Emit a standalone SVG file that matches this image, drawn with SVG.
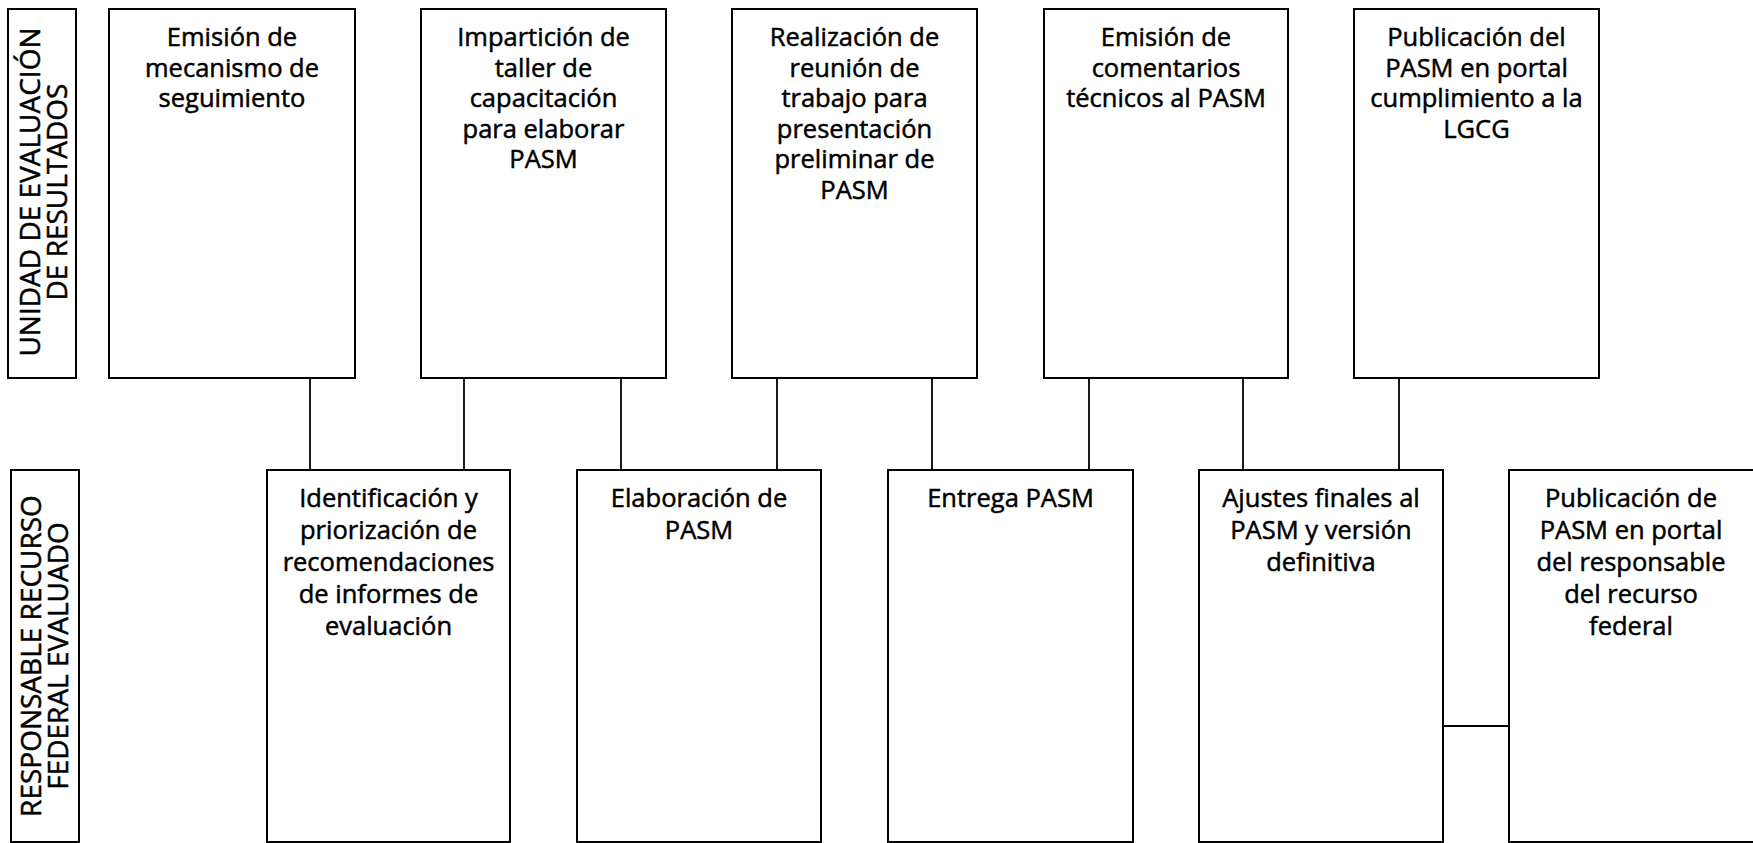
<svg xmlns="http://www.w3.org/2000/svg" width="1753" height="843" viewBox="0 0 1753 843">
<style>
.box{fill:#fff;stroke:#000;stroke-width:2}
.lbl{font-family:"Open Sans","Liberation Sans",sans-serif;font-size:25.5px;fill:#000;stroke:#000;stroke-width:0.5;text-anchor:middle}
.lane{font-family:"Open Sans","Liberation Sans",sans-serif;font-size:28px;fill:#000;stroke:#000;stroke-width:0.5;text-anchor:middle}
.con{stroke:#000;stroke-width:1.8;fill:none}
</style>
<rect width="1753" height="843" fill="#fff"/>
<g id="connectors">
<line class="con" x1="310" y1="378" x2="310" y2="470"/>
<line class="con" x1="464" y1="378" x2="464" y2="470"/>
<line class="con" x1="621" y1="378" x2="621" y2="470"/>
<line class="con" x1="777" y1="378" x2="777" y2="470"/>
<line class="con" x1="932" y1="378" x2="932" y2="470"/>
<line class="con" x1="1089" y1="378" x2="1089" y2="470"/>
<line class="con" x1="1243" y1="378" x2="1243" y2="470"/>
<line class="con" x1="1399" y1="378" x2="1399" y2="470"/>
<line class="con" x1="1443" y1="726" x2="1509" y2="726"/>
</g>
<g id="lane-uer">
<rect class="box" x="8" y="9" width="68" height="369"/>
<text class="lane" transform="translate(42,192) rotate(-90)"><tspan x="0" y="-2">UNIDAD DE EVALUACIÓN</tspan><tspan x="0" y="25">DE RESULTADOS</tspan></text>
</g>
<g id="lane-rfe">
<rect class="box" x="11" y="470" width="68" height="372"/>
<text class="lane" transform="translate(45,656) rotate(-90)"><tspan x="0" y="-4">RESPONSABLE RECURSO</tspan><tspan x="0" y="23">FEDERAL EVALUADO</tspan></text>
</g>
<g id="n1">
<rect class="box" x="109" y="9" width="246" height="369"/>
<text class="lbl"><tspan x="232" y="46">Emisión de</tspan><tspan x="232" y="76.5">mecanismo de</tspan><tspan x="232" y="107">seguimiento</tspan></text>
</g>
<g id="n2">
<rect class="box" x="421" y="9" width="245" height="369"/>
<text class="lbl"><tspan x="543.5" y="46">Impartición de</tspan><tspan x="543.5" y="76.5">taller de</tspan><tspan x="543.5" y="107">capacitación</tspan><tspan x="543.5" y="137.5">para elaborar</tspan><tspan x="543.5" y="168">PASM</tspan></text>
</g>
<g id="n3">
<rect class="box" x="732" y="9" width="245" height="369"/>
<text class="lbl"><tspan x="854.5" y="46">Realización de</tspan><tspan x="854.5" y="76.5">reunión de</tspan><tspan x="854.5" y="107">trabajo para</tspan><tspan x="854.5" y="137.5">presentación</tspan><tspan x="854.5" y="168">preliminar de</tspan><tspan x="854.5" y="198.5">PASM</tspan></text>
</g>
<g id="n4">
<rect class="box" x="1044" y="9" width="244" height="369"/>
<text class="lbl"><tspan x="1166" y="46">Emisión de</tspan><tspan x="1166" y="76.5">comentarios</tspan><tspan x="1166" y="107">técnicos al PASM</tspan></text>
</g>
<g id="n5">
<rect class="box" x="1354" y="9" width="245" height="369"/>
<text class="lbl"><tspan x="1476.5" y="46">Publicación del</tspan><tspan x="1476.5" y="76.5">PASM en portal</tspan><tspan x="1476.5" y="107">cumplimiento a la</tspan><tspan x="1476.5" y="137.5">LGCG</tspan></text>
</g>
<g id="n6">
<rect class="box" x="267" y="470" width="243" height="372"/>
<text class="lbl"><tspan x="388.5" y="507">Identificación y</tspan><tspan x="388.5" y="539">priorización de</tspan><tspan x="388.5" y="571">recomendaciones</tspan><tspan x="388.5" y="603">de informes de</tspan><tspan x="388.5" y="635">evaluación</tspan></text>
</g>
<g id="n7">
<rect class="box" x="577" y="470" width="244" height="372"/>
<text class="lbl"><tspan x="699" y="507">Elaboración de</tspan><tspan x="699" y="539">PASM</tspan></text>
</g>
<g id="n8">
<rect class="box" x="888" y="470" width="245" height="372"/>
<text class="lbl"><tspan x="1010.5" y="507">Entrega PASM</tspan></text>
</g>
<g id="n9">
<rect class="box" x="1199" y="470" width="244" height="372"/>
<text class="lbl"><tspan x="1321" y="507">Ajustes finales al</tspan><tspan x="1321" y="539">PASM y versión</tspan><tspan x="1321" y="571">definitiva</tspan></text>
</g>
<g id="n10">
<rect class="box" x="1509" y="470" width="248" height="372"/>
<text class="lbl"><tspan x="1631" y="507">Publicación de</tspan><tspan x="1631" y="539">PASM en portal</tspan><tspan x="1631" y="571">del responsable</tspan><tspan x="1631" y="603">del recurso</tspan><tspan x="1631" y="635">federal</tspan></text>
</g>
</svg>
